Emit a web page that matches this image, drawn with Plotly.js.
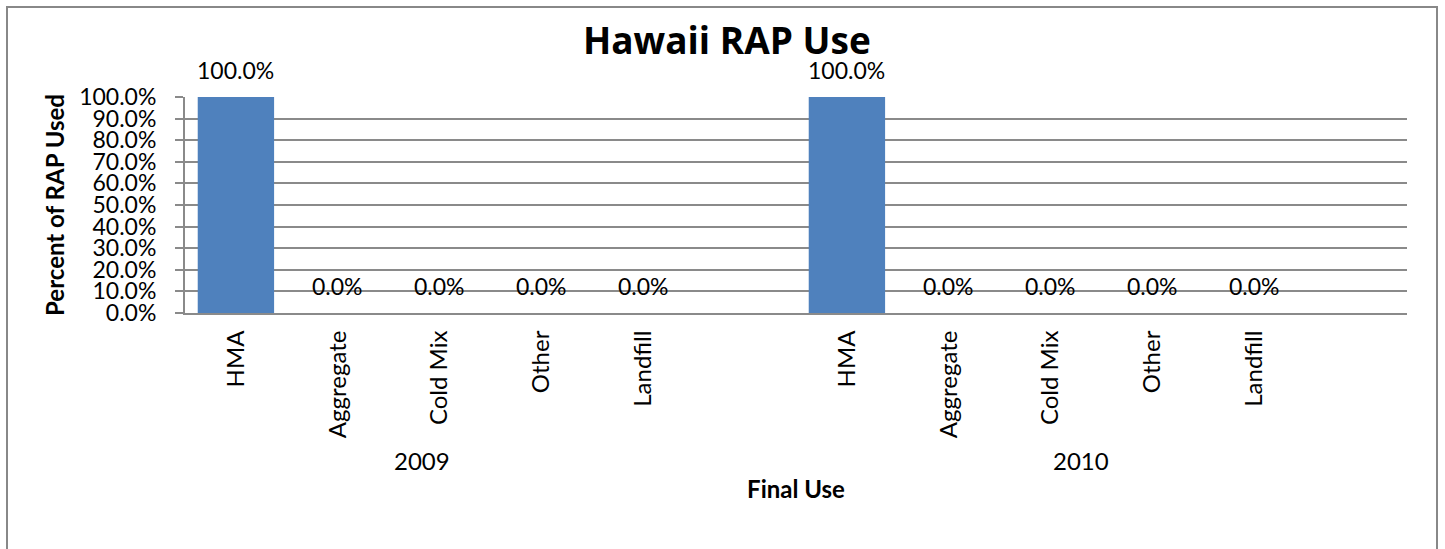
<!DOCTYPE html>
<html>
<head>
<meta charset="utf-8">
<script src="https://cdn.plot.ly/plotly-3.0.1.min.js"></script>
<style>
html,body{margin:0;padding:0;background:#fff;}
#chart{width:1445px;height:549px;}
</style>
</head>
<body>
<div id="chart"></div>
<script>
// ---- data ----
const years = ['2009', '2010'];
const categories = ['HMA', 'Aggregate', 'Cold Mix', 'Other', 'Landfill'];
const values2009 = [1.0, 0.0, 0.0, 0.0, 0.0];
const values2010 = [1.0, 0.0, 0.0, 0.0, 0.0];
const chartTitle = 'Hawaii RAP Use';
const yTitle = 'Percent of RAP Used';
const xTitle = 'Final Use';

// ---- build category slots (each year group has one empty trailing slot) ----
const seriesByYear = {'2009': values2009, '2010': values2010};
const slots = [];
const xs = [], ys = [], tickvals = [], ticktext = [];
years.forEach(yr => {
  categories.forEach((c, i) => {
    const key = yr + ' ' + c;
    slots.push(key);
    xs.push(key);
    ys.push(seriesByYear[yr][i]);
    tickvals.push(key);
    ticktext.push(c);
  });
  slots.push(yr + ' _gap');
});

const font = 'Lato, "Open Sans", "Liberation Sans", sans-serif';
const titleFont = '"Open Sans", Lato, "Liberation Sans", sans-serif';
const gridColor = '#8a8a8a';

const labelAnnotations = xs.map((x, i) => ({
  x: x, y: ys[i], xref: 'x', yref: 'y',
  text: (ys[i] * 100).toFixed(1) + '%',
  showarrow: false, yshift: 27, yanchor: 'middle',
  font: {family: font, size: 23, color: '#000'}
}));

const groupX = {'2009': 0.194, '2010': 0.733};
const groupAnnotations = years.map(yr => ({
  x: groupX[yr], y: -0.685, xref: 'paper', yref: 'paper',
  text: yr, showarrow: false, xanchor: 'center', yanchor: 'middle',
  font: {family: font, size: 24, color: '#000'}
}));

const trace = {
  type: 'bar', x: xs, y: ys,
  marker: {color: '#4F81BD', line: {width: 0}},
  hoverinfo: 'x+y'
};

const layout = {
  width: 1445, height: 549,
  margin: {l: 185, r: 38, t: 97, b: 236, pad: 0},
  paper_bgcolor: '#fff', plot_bgcolor: '#fff',
  bargap: 0.25,
  showlegend: false,
  title: {
    text: chartTitle, x: 0.503, xanchor: 'center', xref: 'container',
    y: 1 - 41 / 549, yanchor: 'middle', yref: 'container',
    font: {family: titleFont, size: 37, weight: 700, color: '#000'}
  },
  xaxis: {
    type: 'category', categoryorder: 'array', categoryarray: slots,
    range: [-0.5, slots.length - 0.5],
    tickvals: tickvals, ticktext: ticktext, tickangle: -90,
    tickfont: {family: font, size: 24, color: '#000'},
    ticks: '', showgrid: false, zeroline: false,
    showline: true, linecolor: gridColor, linewidth: 2,
    ticklabelstandoff: 6,
    title: {text: xTitle, standoff: 44, font: {family: font, size: 24, weight: 700, color: '#000'}}
  },
  yaxis: {
    range: [0, 1], dtick: 0.1, tick0: 0, tickformat: '.1%',
    tickfont: {family: font, size: 23, color: '#000'},
    ticks: 'outside', ticklen: 8, tickwidth: 2, tickcolor: gridColor,
    showgrid: true, gridcolor: gridColor, gridwidth: 2,
    zeroline: false, showline: true, linecolor: gridColor, linewidth: 2,
    ticklabelstandoff: 14,
    title: {text: yTitle, standoff: 8, font: {family: font, size: 24, weight: 700, color: '#000'}}
  },
  annotations: labelAnnotations.concat(groupAnnotations),
  shapes: [{
    type: 'rect', xref: 'paper', yref: 'paper',
    x0: (7 - 185) / 1222, x1: (1437 - 185) / 1222,
    y0: -1.3, y1: (313 - 7) / 216,
    line: {color: '#888', width: 2}, fillcolor: 'rgba(0,0,0,0)', layer: 'below'
  }]
};

Plotly.newPlot('chart', [trace], layout, {displayModeBar: false, staticPlot: true});
</script>
</body>
</html>
